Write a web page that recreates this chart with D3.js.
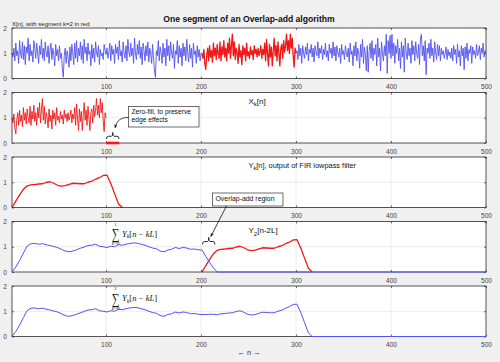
<!DOCTYPE html>
<html><head><meta charset="utf-8">
<script src="https://cdn.jsdelivr.net/npm/d3@7"></script>
<style>body{margin:0;background:#f0f0f0;}svg{display:block}</style>
</head><body>
<script>
// ---------- DATA ----------
// X[n], n = 1..500
const xSignal = [
1.0,0.85,1.2,0.7,1.4,0.9,1.1,0.6,1.5,1.0,0.8,1.45,0.75,1.3,0.55,1.25,1.0,1.6,0.7,1.35,0.9,1.1,0.65,1.5,1.2,
0.8,1.4,1.05,0.6,1.3,0.95,1.55,0.8,1.2,0.7,1.45,1.0,0.85,1.3,0.6,1.1,1.4,0.75,1.2,0.95,0.5,1.35,0.9,1.15,0.7,
1.3,0.8,1.0,0.4,0.05,0.9,1.2,0.6,1.1,0.85,0.45,1.25,0.7,1.35,1.0,0.55,1.4,0.8,1.5,0.65,1.2,0.9,1.45,0.75,1.3,
0.6,1.55,1.0,1.25,0.7,1.4,0.95,1.1,0.5,1.35,0.8,1.2,0.65,1.45,1.05,0.85,1.3,0.55,1.15,0.9,1.0,0.75,1.35,1.1,0.95,
1.2,0.8,1.05,1.4,0.7,1.3,0.95,1.15,0.6,1.35,1.0,1.25,0.75,1.5,0.9,1.1,0.65,1.45,1.0,0.8,1.3,0.7,1.55,1.05,0.85,
1.4,0.9,1.2,0.6,1.6,1.0,0.75,1.35,0.95,1.5,0.8,1.25,0.55,1.4,1.1,0.7,1.3,0.9,1.45,0.65,1.2,1.0,0.6,1.35,0.8,
0.3,0.05,1.1,0.9,1.5,0.7,1.25,1.0,0.6,1.4,0.85,1.2,0.5,1.55,0.9,1.3,0.7,1.45,1.0,0.8,1.35,0.4,1.1,0.95,1.5,
0.6,1.3,0.85,1.2,0.5,1.4,0.9,1.25,0.7,1.55,1.0,0.65,1.35,0.8,1.2,0.45,1.4,0.95,1.1,0.6,1.3,0.85,1.15,0.7,1.0,
1.0,0.8,1.15,0.6,0.36,0.9,1.2,0.7,1.3,0.85,1.1,0.65,1.4,0.9,1.2,0.75,1.35,1.0,0.8,1.45,0.7,1.25,0.95,1.5,0.85,
1.2,0.7,1.4,1.0,1.6,0.8,1.3,1.76,0.9,1.45,0.75,1.2,1.0,0.6,1.35,0.85,1.1,0.55,1.3,0.95,1.2,0.7,1.4,0.9,1.05,
0.8,1.25,0.95,1.1,0.75,1.3,1.0,1.15,0.85,1.2,0.9,1.05,1.3,0.8,1.15,0.95,1.4,0.7,1.55,1.0,0.5,1.35,0.85,1.25,0.5,
1.1,1.6,0.9,1.3,0.7,1.45,1.0,0.5,1.2,1.35,0.8,1.5,1.05,1.3,1.76,1.1,1.5,1.0,1.76,1.2,1.6,0.9,0.45,1.2,1.0,
1.1,0.75,1.35,0.9,1.2,0.6,1.3,1.0,0.8,1.25,0.95,1.4,0.7,1.15,1.0,1.35,0.85,1.2,0.65,1.3,1.05,0.9,1.45,0.8,1.2,
1.0,1.3,0.75,1.15,0.95,1.4,0.85,1.1,0.7,1.35,1.0,1.2,0.8,1.45,0.9,1.25,0.7,1.3,1.05,0.85,1.2,0.6,1.35,0.95,1.1,
0.75,1.3,1.0,0.85,1.2,0.65,1.4,0.95,1.1,0.5,1.3,0.9,1.45,0.7,1.2,1.0,0.4,1.35,0.85,1.55,0.6,1.25,0.95,0.3,1.3,
0.25,1.1,1.4,0.8,1.5,0.7,1.2,0.95,1.35,0.5,1.6,0.85,1.2,0.3,1.45,1.0,0.7,1.3,0.9,1.75,0.2,1.5,1.0,1.7,0.8,
1.75,0.9,1.4,0.6,1.3,1.0,1.55,0.7,1.2,0.4,1.45,0.85,1.3,0.25,1.6,1.0,0.75,1.4,0.9,1.2,0.6,1.5,0.95,1.3,0.7,
1.45,1.0,0.8,1.35,0.55,1.6,1.75,0.9,1.3,0.7,1.5,0.15,1.2,1.0,1.4,0.8,1.55,0.9,1.2,0.65,1.45,1.0,0.75,1.35,0.9,
1.3,0.7,1.2,0.95,1.1,0.8,1.0,1.25,0.75,1.15,0.9,1.05,0.8,1.2,0.7,1.3,0.95,1.15,0.6,1.35,0.85,1.1,0.5,1.3,0.9,
1.2,0.35,1.25,0.8,1.4,0.7,1.15,1.0,1.3,0.6,1.25,0.95,1.1,0.8,1.35,0.9,1.05,1.3,0.75,1.2,1.0,1.4,0.85,1.1,1.0
];
const segK = 2;          // segment shown in red
const segLen = 100;      // L
const filtLen = 15;      // zero-fill length (filter tail)
const sampleStep = 4;    // spacing of the read-off filtered samples
// Y_k[n], n = 1,5,9,...,117  (filter output of segment k=2)
const ykValues = [0,0.25,0.5,0.72,0.86, 0.9,0.91,0.93,0.94,0.99, 1.02,0.96,0.88,0.85,0.87,
  0.92,0.96,0.95,0.94,0.94, 1.0,1.04,1.12,1.18,1.27, 1.28,0.95,0.55,0.15,0.0];
// sum_{k=0}^{1} Y_k[n-kL], n = 1,5,9,...,217
const sum01Values = [0,0.2,0.45,0.75,1.03, 1.12,1.13,1.1,1.12,1.08, 1.05,1.01,0.97,0.9,0.83,
  0.8,0.83,0.88,0.94,0.99, 1.05,1.06,1.1,1.02,1.0, 0.97,1.02,1.0,1.08,1.06,
  1.1,1.13,1.15,1.14,1.1, 1.06,1.0,0.95,0.92,0.83, 0.8,0.87,0.9,0.97,0.93,
  0.97,0.95,0.9,0.91,0.88, 0.87,0.62,0.38,0.16,0.0];
const xTicks = [100,200,300,400,500];
const yTicks = [0,1,2];
const xDomain = [1,500];
const yDomain = [0,2];

// ---------- LAYOUT ----------
const W = 500, H = 362;
const left = 12, right = 486;
const panelTop0 = 28, panelGap = 64.5, panelH = 50.5;
const BLUE = "#5252ee", RED = "#f01818";
const FONT = "'Liberation Sans', Arial, Helvetica, sans-serif";
const SERIF = "'Liberation Serif', 'DejaVu Serif', serif";

const svg = d3.select("body").append("svg").attr("width", W).attr("height", H)
  .style("font-family", FONT);
svg.append("rect").attr("width", W).attr("height", H).attr("fill", "#f0f0f0");

const defs = svg.append("defs");
defs.append("marker").attr("id","arr").attr("viewBox","0 0 10 10").attr("refX",9).attr("refY",5)
  .attr("markerWidth",5).attr("markerHeight",5).attr("orient","auto-start-reverse")
  .append("path").attr("d","M0,1 L10,5 L0,9 L3,5 Z").attr("fill","#111");

const x = d3.scaleLinear().domain(xDomain).range([left, right]);

function panel(i) {
  const top = panelTop0 + i * panelGap, bottom = top + panelH;
  const y = d3.scaleLinear().domain(yDomain).range([bottom, top]);
  const g = svg.append("g");
  g.append("rect").attr("x", left).attr("y", top).attr("width", right-left).attr("height", panelH)
    .attr("fill", "#fff");
  g.selectAll(".gx").data(xTicks.filter(t => t < xDomain[1])).join("line")
    .attr("x1", d => x(d)).attr("x2", d => x(d)).attr("y1", top).attr("y2", bottom)
    .attr("stroke", "#e3e3e3").attr("stroke-width", 0.7);
  g.selectAll(".gy").data([1]).join("line")
    .attr("x1", left).attr("x2", right).attr("y1", d => y(d)).attr("y2", d => y(d))
    .attr("stroke", "#e3e3e3").attr("stroke-width", 0.7);
  const plot = g.append("g");
  const frame = g.append("g");
  const ab = frame.append("g").attr("transform", `translate(0,${bottom})`)
    .call(d3.axisBottom(x).tickValues(xTicks).tickSize(-2).tickPadding(6.2).tickSizeOuter(0).tickFormat(d3.format("d")));
  const at = frame.append("g").attr("transform", `translate(0,${top})`)
    .call(d3.axisTop(x).tickValues(xTicks).tickSize(-2).tickFormat("").tickSizeOuter(0));
  const al = frame.append("g").attr("transform", `translate(${left},0)`)
    .call(d3.axisLeft(y).tickValues(yTicks).tickSize(-2).tickPadding(5).tickSizeOuter(0).tickFormat(d3.format("d")));
  const ar = frame.append("g").attr("transform", `translate(${right},0)`)
    .call(d3.axisRight(y).tickValues(yTicks).tickSize(-2).tickFormat("").tickSizeOuter(0));
  [ab, at, al, ar].forEach(a => {
    a.select(".domain").remove();
    a.selectAll("line").attr("stroke", "#333").attr("stroke-width", 0.7);
    a.selectAll("text").attr("fill", "#444").style("font-size", "6.6px").style("font-family", FONT);
  });
  frame.append("rect").attr("x", left).attr("y", top).attr("width", right-left).attr("height", panelH)
    .attr("fill", "none").attr("stroke", "#2a2a2a").attr("stroke-width", 0.8);
  return {g, plot, y, top, bottom, frame};
}

function drawLine(target, y, pts, color, w) {
  target.append("path").datum(pts)
    .attr("d", d3.line().x(d => x(d[0])).y(d => y(d[1])))
    .attr("fill", "none").attr("stroke", color).attr("stroke-width", w)
    .attr("stroke-linejoin", "round");
}

const segStart = segK * segLen;           // 200
const xPts = xSignal.map((v, i) => [i + 1, v]);
const ykPts = ykValues.map((v, i) => [1 + i * sampleStep, v]);
const sum01Pts = sum01Values.map((v, i) => [1 + i * sampleStep, v]);

// ---- Panel 1 ----
const p1 = panel(0);
drawLine(p1.plot, p1.y, xPts.filter(d => d[0] <= segStart + 1), BLUE, 0.9);
drawLine(p1.plot, p1.y, xPts.filter(d => d[0] >= segStart + segLen), BLUE, 0.9);
drawLine(p1.plot, p1.y, xPts.filter(d => d[0] >= segStart + 1 && d[0] <= segStart + segLen), RED, 1.3);

// ---- Panel 2 ----
const p2 = panel(1);
const xkPts = xSignal.slice(segStart, segStart + segLen).map((v, i) => [i + 1, v]);
drawLine(p2.plot, p2.y, xkPts, RED, 0.9);
drawLine(p2.frame, p2.y, [[segLen, 0], [segLen + filtLen - 1, 0]], RED, 2.6);

// ---- Panel 3 ----
const p3 = panel(2);
drawLine(p3.plot, p3.y, ykPts, RED, 1.3);

// ---- Panel 4 ----
const p4 = panel(3);
drawLine(p4.frame, p4.y, sum01Pts.concat([[xDomain[1], 0]]), BLUE, 1.0);
drawLine(p4.plot, p4.y, ykPts.map(d => [d[0] + segStart, d[1]]), RED, 1.3);

// ---- Panel 5 ----
const p5 = panel(4);
const sumAll = [];
const lastN = ykPts[ykPts.length - 1][0] + segStart;
for (let n = 1; n <= lastN; n += sampleStep) {
  const a = (n - 1) / sampleStep < sum01Values.length ? sum01Values[(n - 1) / sampleStep] : 0;
  const j = (n - 1 - segStart) / sampleStep;
  const b = j >= 0 && j < ykValues.length ? ykValues[j] : 0;
  sumAll.push([n, a + b]);
}
sumAll.push([xDomain[1], 0]);
drawLine(p5.frame, p5.y, sumAll, BLUE, 1.0);

// ---------- TEXT ----------
svg.append("text").attr("x", 249).attr("y", 21.5).attr("text-anchor", "middle")
  .style("font-size", "8.6px").style("font-weight", "bold").attr("fill", "#111")
  .text("One segment of an Overlap-add algorithm");
svg.append("text").attr("x", 12).attr("y", 25.5).style("font-size", "6px").attr("fill", "#222")
  .text("X[n], with segment k=2 in red");

function subText(xp, yp, main, sub, rest, size) {
  const t = svg.append("text").attr("x", xp).attr("y", yp).style("font-size", size + "px").attr("fill", "#111");
  t.append("tspan").text(main);
  t.append("tspan").attr("dy", size * 0.35).style("font-size", (size * 0.75) + "px").text(sub);
  t.append("tspan").attr("dy", -size * 0.35).text(rest);
  return t;
}
subText(248.5, 103.5, "X", "k", "[n]", 8);
subText(248.5, 167.5, "Y", "k", "[n], output of FIR lowpass filter", 7.4);
subText(248.5, 233, "Y", "2", "[n-2L]", 8);

svg.append("text").attr("x", 249).attr("y", 354.5).attr("text-anchor", "middle")
  .style("font-size", "7.5px").attr("fill", "#333").text("\u2190 n \u2192");

// formulas
function formula(top, upper) {
  const g = svg.append("g").style("font-family", SERIF).attr("fill", "#111");
  g.append("text").attr("transform", `translate(115.5,${top + 15.6}) scale(0.9,1.3)`)
    .attr("text-anchor", "middle").style("font-size", "12px").text("\u2211");
  g.append("text").attr("x", 115.5).attr("y", top + 2.2).attr("text-anchor", "middle")
    .style("font-size", "4.6px").text(upper);
  g.append("text").attr("x", 115.5).attr("y", top + 21.8).attr("text-anchor", "middle")
    .style("font-size", "4.6px").style("font-style", "italic").text("k=0");
  const t = g.append("text").attr("x", 122).attr("y", top + 13).style("font-size", "8.6px");
  t.append("tspan").style("font-style", "italic").text("Y");
  t.append("tspan").attr("dy", 1.8).style("font-size", "5.8px").style("font-style", "italic").text("k");
  t.append("tspan").attr("dy", -1.8).text("[");
  t.append("tspan").style("font-style", "italic").text("n");
  t.append("tspan").text(" \u2212 ");
  t.append("tspan").style("font-style", "italic").text("kL");
  t.append("tspan").text("]");
}
formula(p4.top + 2, "1");
formula(p5.top + 2, "2");

// annotation boxes
function box(x0, y0, w, h, lines, size) {
  svg.append("rect").attr("x", x0).attr("y", y0).attr("width", w).attr("height", h)
    .attr("fill", "#fff").attr("stroke", "#333").attr("stroke-width", 0.7);
  lines.forEach((s, i) => svg.append("text").attr("x", x0 + 3).attr("y", y0 + 7.5 + i * 8.2)
    .style("font-size", size + "px").attr("fill", "#111").text(s));
}
box(128.5, 106.5, 70.5, 20.5, ["Zero-fill, to preserve", "edge effects"], 6.7);
box(212.5, 193, 70.5, 13, ["Overlap-add region"], 6.9);

// arrows
svg.append("path").attr("d", "M128.5,117.5 C121,117.5 117,120 115,127.8")
  .attr("fill", "none").attr("stroke", "#111").attr("stroke-width", 0.8).attr("marker-end", "url(#arr)");
svg.append("path").attr("d", "M226.5,206 L210.8,236.5")
  .attr("fill", "none").attr("stroke", "#111").attr("stroke-width", 0.8).attr("marker-end", "url(#arr)");

// braces
function brace(x0, x1, yTop, yBot) {
  const xm = (x0 + x1) / 2, ym = (yTop + yBot) / 2 + 0.5;
  const d = `M${x0},${yBot} Q${x0},${ym} ${x0+2},${ym} L${xm-1.2},${ym} Q${xm},${ym} ${xm},${yTop}` +
            ` Q${xm},${ym} ${xm+1.2},${ym} L${x1-2},${ym} Q${x1},${ym} ${x1},${yBot}`;
  svg.append("path").attr("d", d).attr("fill", "none").attr("stroke", "#111").attr("stroke-width", 0.9);
}
brace(106.5, 119, 132.5, 139);
brace(202.5, 215, 237.5, 244.5);
</script>
</body></html>
